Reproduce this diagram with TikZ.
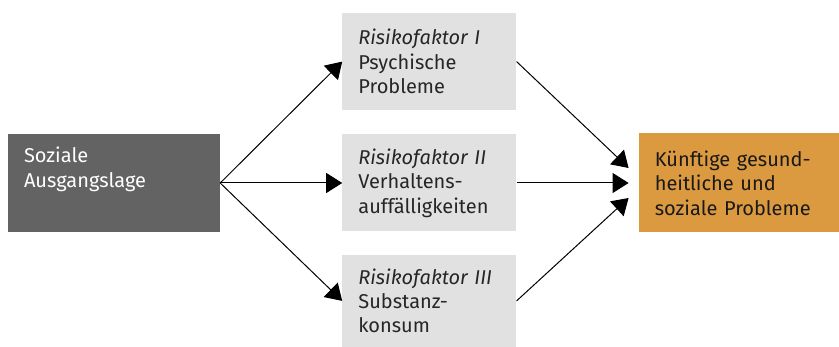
\documentclass[tikz,border=0pt]{standalone}
\usepackage{fontspec}
\setmainfont{Fira Sans}
\usetikzlibrary{positioning,arrows.meta,calc}
\definecolor{darkbox}{HTML}{636363}
\definecolor{lightbox}{HTML}{E1E1E1}
\definecolor{orangebox}{HTML}{DC9A40}

\begin{document}
\begin{tikzpicture}[node distance=122pt,
    box/.style = {align=left, inner xsep=16pt, inner ysep=0pt, font=\fontsize{20}{24.4}\selectfont},
    risk/.style = {box, fill=lightbox, text=black!85, minimum width=174pt, minimum height=97pt, text width=142pt},
    arr/.style = {-{Triangle[length=16pt,width=20pt]}, line width=1pt}]
    \useasboundingbox (0,0) rectangle (839pt,-347pt);
    \node[box, fill=darkbox, text=white, minimum width=212pt, minimum height=98pt, text width=180pt] (soz) at (114pt,-183pt) {Soziale\\Ausgangslage\\\strut};
    \node[risk] (r2) [right=of soz] {\textit{Risikofaktor II}\\Verhaltens-\\auffälligkeiten};
    \node[risk] (r1) [above=24pt of r2] {\textit{Risikofaktor I}\\Psychische\\Probleme};
    \node[risk, minimum height=92pt] (r3) [below=23pt of r2.south] {\textit{Risikofaktor III}\\Substanz-\\konsum};
    \node[box, fill=orangebox, text=black!90, minimum width=201pt, minimum height=99pt, text width=169pt] (fut) [right=of r2] {Künftige gesund-\\heitliche und\\soziale Probleme};
    \coordinate (in1) at ($(fut.west)+(-10pt,15pt)$);
    \coordinate (in2) at ($(fut.west)+(-10pt,0pt)$);
    \coordinate (in3) at ($(fut.west)+(-10pt,-15pt)$);
    \draw[arr] (soz.east) -- (r1.west);
    \draw[arr] (soz.east) -- (r2.west);
    \draw[arr] (soz.east) -- (r3.west);
    \draw[arr] (r1.east) -- (in1);
    \draw[arr] (r2.east) -- (in2);
    \draw[arr] (r3.east) -- (in3);
\end{tikzpicture}
\end{document}
